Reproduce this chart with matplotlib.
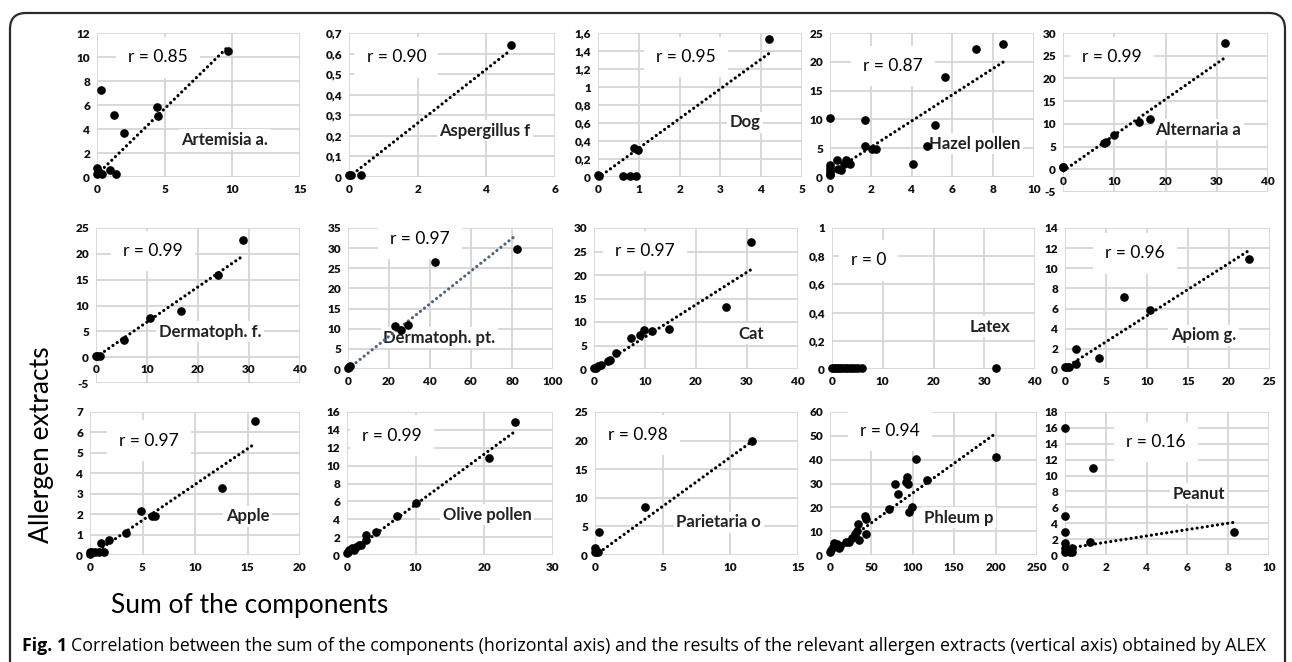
import numpy as np
import matplotlib
matplotlib.use("Agg")
import matplotlib.pyplot as plt
from matplotlib.patches import FancyBboxPatch
from matplotlib.transforms import IdentityTransform

W, H = 1292, 662

# ---- data ----
names = ["Artemisia a.", "Aspergillus f", "Dog", "Hazel pollen", "Alternaria a",
         "Dermatoph. f.", "Dermatoph. pt.", "Cat", "Latex", "Apiom g.",
         "Apple", "Olive pollen", "Parietaria o", "Phleum p", "Peanut"]
r_values = ["0.85", "0.90", "0.95", "0.87", "0.99",
            "0.99", "0.97", "0.97", "0", "0.96",
            "0.97", "0.99", "0.98", "0.94", "0.16"]

artemisia_x = [0.3, 1.23, 2.0, 4.43, 4.52, 9.69, 0.0, 0.0, 0.37, 0.98, 1.38, 0.15]
artemisia_y = [7.26, 5.17, 3.69, 5.87, 5.08, 10.47, 0.75, 0.28, 0.22, 0.56, 0.22, 0.4]

aspergillus_x = [0.0, 0.05, 0.36, 4.71]
aspergillus_y = [0.01, 0.01, 0.01, 0.64]

dog_x = [0.0, 0.02, 0.61, 0.79, 0.94, 0.89, 0.97, 4.19]
dog_y = [0.02, 0.01, 0.01, 0.01, 0.01, 0.32, 0.30, 1.53]

hazel_x = [0.0, 0.0, 0.0, 0.0, 0.0, 0.0, 0.32, 0.4, 0.56, 0.67, 0.8, 1.0,
           1.7, 1.7, 2.05, 2.27, 4.05, 4.75, 5.14, 5.63, 7.18, 8.5]
hazel_y = [10.2, 2.0, 1.5, 1.0, 0.5, 0.3, 3.0, 1.45, 1.3, 2.3, 2.9, 2.3,
           9.9, 5.4, 4.9, 4.9, 2.3, 5.4, 9.0, 17.3, 22.3, 23.1]

alternaria_x = [0.0, 0.0, 8.0, 8.4, 9.9, 14.8, 17.0, 31.7]
alternaria_y = [0.4, 0.6, 5.85, 6.0, 7.5, 10.35, 11.1, 27.9]

derma_f_x = [0.0, 0.2, 0.7, 5.4, 10.6, 16.7, 24.0, 28.9]
derma_f_y = [0.2, 0.2, 0.2, 3.4, 7.6, 8.9, 15.9, 22.6]

derma_pt_x = [0.0, 0.3, 1.1, 22.8, 25.8, 29.2, 42.5, 82.4]
derma_pt_y = [0.2, 0.5, 0.8, 10.6, 9.8, 11.0, 26.5, 29.8]

cat_x = [0.0, 0.3, 0.8, 1.4, 2.7, 3.2, 4.4, 7.3, 9.1, 9.9, 11.4, 14.8, 25.8, 30.7]
cat_y = [0.2, 0.3, 0.6, 0.9, 1.6, 2.0, 3.5, 6.6, 7.3, 8.2, 8.0, 8.5, 13.1, 27.0]

latex_x = [0.0, 0.4, 0.8, 1.2, 1.6, 2.0, 2.5, 3.0, 3.5, 4.0, 4.6, 5.2, 5.9, 32.3]
latex_y = [0.01, 0.01, 0.01, 0.01, 0.01, 0.01, 0.01, 0.01, 0.01, 0.01, 0.01, 0.01, 0.01, 0.01]

apiom_x = [0.0, 0.2, 0.5, 1.4, 1.4, 4.1, 7.2, 10.4, 22.4]
apiom_y = [0.2, 0.2, 0.2, 0.45, 1.95, 1.05, 7.1, 5.9, 10.9]

apple_x = [0.0, 0.2, 0.5, 0.9, 1.3, 0.0, 1.08, 1.84, 3.43, 4.83, 5.87, 6.2, 12.6, 15.7]
apple_y = [0.13, 0.13, 0.13, 0.13, 0.13, 0.03, 0.61, 0.74, 1.07, 2.14, 1.92, 1.92, 3.29, 6.58]

olive_x = [0.0, 0.1, 0.35, 0.7, 0.95, 1.3, 1.7, 2.1, 2.7, 2.8, 4.2, 7.3, 10.0, 20.65, 24.5]
olive_y = [0.2, 0.3, 0.56, 0.82, 0.56, 0.93, 1.12, 1.12, 1.68, 2.24, 2.6, 4.4, 5.78, 10.8, 14.86]

parietaria_x = [0.0, 0.0, 0.05, 0.25, 0.32, 3.69, 11.63]
parietaria_y = [0.6, 1.3, 0.5, 0.5, 4.06, 8.4, 20.0]

phleum_x = [0.0, 1.25, 3.3, 5.0, 8.3, 10.4, 11.7, 18.75, 22.9, 27.0, 30.0, 32.5, 34.0, 35.4,
            41.7, 43.3, 43.75, 70.8, 79.0, 82.5, 92.5, 91.7, 93.75, 95.8, 98.75, 104.0, 116.7, 200.0]
phleum_y = [1.1, 2.1, 3.5, 5.2, 4.5, 2.8, 3.9, 5.6, 5.3, 7.3, 8.7, 10.1, 12.8, 6.1,
            16.2, 14.9, 8.8, 19.1, 30.0, 25.4, 32.8, 30.7, 29.6, 18.2, 20.3, 40.1, 31.6, 41.1]

peanut_x = [0.0, 0.0, 0.0, 0.0, 0.0, 0.0, 0.16, 0.25, 0.36, 0.33, 1.22, 1.35, 8.29]
peanut_y = [16.0, 4.9, 2.9, 1.45, 0.83, 0.42, 0.6, 0.33, 0.42, 0.83, 1.66, 10.9, 2.9]

# linear trendlines (slope, intercept) as drawn in the figure; Latex has none visible
trend_slope = [1.1, 0.131, 0.33, 2.28, 0.79, 0.68, 0.405, 0.69, None, 0.52,
               0.35, 0.565, 1.72, 0.25, 0.4]
trend_intercept = [0.2, 0.0, -0.01, 0.6, -0.4, 0.0, 0.0, -0.1, None, 0.1,
                   -0.05, 0.0, -0.1, 1.0, 0.8]

xs = [artemisia_x, aspergillus_x, dog_x, hazel_x, alternaria_x,
      derma_f_x, derma_pt_x, cat_x, latex_x, apiom_x,
      apple_x, olive_x, parietaria_x, phleum_x, peanut_x]
ys = [artemisia_y, aspergillus_y, dog_y, hazel_y, alternaria_y,
      derma_f_y, derma_pt_y, cat_y, latex_y, apiom_y,
      apple_y, olive_y, parietaria_y, phleum_y, peanut_y]

# ---- axis setup ----
x_max = [15, 6, 5, 10, 40, 40, 100, 40, 40, 25, 20, 30, 15, 250, 10]
x_step = [5, 2, 1, 2, 10, 10, 20, 10, 10, 5, 5, 10, 5, 50, 2]
y_min = [0, 0, 0, 0, -5, -5, 0, 0, 0, 0, 0, 0, 0, 0, 0]
y_max = [12, 0.7, 1.6, 25, 30, 25, 35, 30, 1, 14, 7, 16, 25, 60, 18]
y_step = [2, 0.1, 0.2, 5, 5, 5, 5, 5, 0.2, 2, 1, 2, 5, 10, 2]
comma = [False, True, True, False, False, False, False, False, True, False,
         False, False, False, False, False]

# pixel boxes (left, top, right, bottom)
boxes = [(97, 33, 300, 177), (349, 33, 555, 177), (598, 33, 802, 177), (830, 33, 1034, 177), (1063, 33, 1268, 192),
         (96, 228, 300, 383), (348, 228, 553, 369), (594, 228, 798, 369), (832, 228, 1035, 369), (1065, 228, 1270, 369),
         (90, 412, 300, 555), (347, 412, 553, 555), (595, 412, 798, 555), (830, 412, 1037, 555), (1065, 412, 1269, 555)]

r_pos = [(0.30, 0.83), (0.23, 0.83), (0.43, 0.835), (0.31, 0.77), (0.24, 0.85),
         (0.28, 0.85), (0.35, 0.92), (0.25, 0.835), (0.18, 0.77), (0.34, 0.82),
         (0.28, 0.80), (0.22, 0.835), (0.21, 0.84), (0.29, 0.87), (0.445, 0.79)]
name_pos = [(0.63, 0.26), (0.66, 0.32), (0.72, 0.38), (0.71, 0.23), (0.66, 0.39),
            (0.56, 0.33), (0.445, 0.22), (0.77, 0.25), (0.78, 0.30), (0.675, 0.24),
            (0.75, 0.27), (0.68, 0.28), (0.61, 0.23), (0.62, 0.26), (0.655, 0.43)]

FONT = "Lato"


def fmt(v, use_comma):
    s = "{:g}".format(round(v, 3))
    return s.replace(".", ",") if use_comma else s


fig = plt.figure(figsize=(W / 100, H / 100), dpi=100)

border = FancyBboxPatch((10, -30), 1275, 662 - 13 + 30,
                        boxstyle="round,pad=0,rounding_size=16",
                        transform=IdentityTransform(), fill=False,
                        ec="#2b2b2b", lw=1.6)
fig.patches.append(border)

for i in range(15):
    l, t, r, b = boxes[i]
    ax = fig.add_axes([l / W, 1 - b / H, (r - l) / W, (b - t) / H])
    ax.set_xlim(0, x_max[i])
    ax.set_ylim(y_min[i], y_max[i])
    xt = np.arange(0, x_max[i] + x_step[i] / 2, x_step[i])
    yt = np.arange(y_min[i], y_max[i] + y_step[i] / 2, y_step[i])
    ax.set_xticks(xt)
    ax.set_yticks(yt)
    ax.set_xticklabels([fmt(v, False) for v in xt])
    ax.set_yticklabels([fmt(v, comma[i]) for v in yt])
    for s in ax.spines.values():
        s.set_color("none")
    ax.spines["bottom"].set_position(("data", 0))
    ax.tick_params(length=0, labelsize=8.5, labelcolor="#111111")
    ax.tick_params(axis="y", pad=5)
    ax.tick_params(axis="x", pad=5)
    for lab in ax.get_xticklabels() + ax.get_yticklabels():
        lab.set_fontfamily(FONT)
        lab.set_fontweight("heavy")
    ax.grid(True, color="#d6d6d6", lw=1.3)
    ax.set_axisbelow(True)
    ax.patch.set_alpha(0)

    x = np.array(xs[i])
    y = np.array(ys[i])
    if trend_slope[i] is not None:
        tx = np.array([x.min(), x.max()])
        ty = trend_slope[i] * tx + trend_intercept[i]
        col = "#4a6580" if names[i] == "Dermatoph. pt." else "black"
        ax.plot(tx, ty, ls=(0, (0.01, 1.6)), color=col, lw=2.3,
                dash_capstyle="round", zorder=3)
    ax.plot(x, y, "o", color="black", ms=5.2, zorder=4, clip_on=False)

    ax.text(r_pos[i][0], r_pos[i][1], "r = " + r_values[i], transform=ax.transAxes,
            ha="center", va="center", fontsize=12.5, family=FONT, zorder=2,
            bbox=dict(boxstyle="square,pad=0.7", fc="white", ec="none"))
    ax.text(name_pos[i][0], name_pos[i][1], names[i], transform=ax.transAxes,
            ha="center", va="center", fontsize=12, family=FONT, fontweight="bold",
            color="#222222", zorder=2,
            bbox=dict(boxstyle="square,pad=0.15", fc="white", ec="none"))

fig.text(42 / W, 1 - 445 / H, "Allergen extracts", rotation=90, ha="center", va="center",
         fontsize=19, family=FONT)
fig.text(250 / W, 1 - 606 / H, "Sum of the components", ha="center", va="center",
         fontsize=19, family=FONT)

fig.text(22 / W, 1 - 646 / H, "Fig. 1", ha="left", va="center", fontsize=12.8,
         family="Open Sans", fontweight="bold")
fig.text(71 / W, 1 - 646 / H,
         "Correlation between the sum of the components (horizontal axis) and the results "
         "of the relevant allergen extracts (vertical axis) obtained by ALEX",
         ha="left", va="center", fontsize=12.8, family="Open Sans")

fig.savefig("out.png", dpi=100)
